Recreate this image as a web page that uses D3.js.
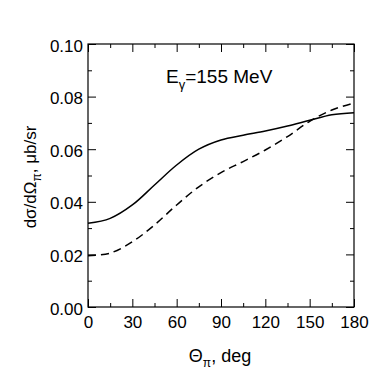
<!DOCTYPE html>
<html>
<head>
<meta charset="utf-8">
<script src="https://cdn.jsdelivr.net/npm/d3@7"></script>
<style>
body { margin: 0; background: #fff; }
text { font-family: "Liberation Sans", Arial, sans-serif; fill: #000; }
</style>
</head>
<body>
<script>
var w = 391;
var h = 381;
var margin = {top: 44, right: 37, bottom: 74, left: 88};

// angle in degrees
var angles = [0, 15, 30, 45, 60, 75, 90, 105, 120, 135, 150, 165, 180];
// solid curve
var solid = [0.0318, 0.0337, 0.0388, 0.0464, 0.0540, 0.0600, 0.0635, 0.0653, 0.0669, 0.0688, 0.0710, 0.0731, 0.0739];
// dashed curve
var dashed = [0.0195, 0.0205, 0.0248, 0.0312, 0.0388, 0.0457, 0.0511, 0.0553, 0.0597, 0.0648, 0.0706, 0.0749, 0.0775];

var xTicks = [0, 30, 60, 90, 120, 150, 180];
var xMinor = [15, 45, 75, 105, 135, 165];
var yTicks = [0, 0.02, 0.04, 0.06, 0.08, 0.10];
var yMinor = [0.01, 0.03, 0.05, 0.07, 0.09];

var pw = w - margin.left - margin.right;
var ph = h - margin.top - margin.bottom;

var svg = d3.select("body").append("svg")
  .attr("width", w)
  .attr("height", h);

var g = svg.append("g")
  .attr("transform", "translate(" + margin.left + "," + margin.top + ")");

var x = d3.scaleLinear().domain([0, 180]).range([0, pw]);
var y = d3.scaleLinear().domain([0, 0.1]).range([ph, 0]);

function styleAxis(sel) {
  sel.select(".domain").remove();
  sel.selectAll("line").attr("stroke", "#000").attr("stroke-width", 1);
}

// major ticks, inward, all four sides
g.append("g").attr("transform", "translate(0," + ph + ")")
  .call(d3.axisBottom(x).tickValues(xTicks).tickSizeInner(-8).tickPadding(9).tickFormat(d3.format("d")))
  .call(styleAxis)
  .selectAll("text").style("font-size", "17px");
g.append("g").attr("transform", "translate(0," + ph + ")")
  .call(d3.axisBottom(x).tickValues(xMinor).tickSizeInner(-4).tickFormat(""))
  .call(styleAxis);
g.append("g")
  .call(d3.axisTop(x).tickValues(xTicks).tickSizeInner(-8).tickFormat(""))
  .call(styleAxis);
g.append("g")
  .call(d3.axisTop(x).tickValues(xMinor).tickSizeInner(-4).tickFormat(""))
  .call(styleAxis);

g.append("g")
  .call(d3.axisLeft(y).tickValues(yTicks).tickSizeInner(-8).tickPadding(5).tickFormat(d3.format(".2f")))
  .call(styleAxis)
  .selectAll("text").style("font-size", "17px").attr("dy", "0.42em");
g.append("g")
  .call(d3.axisLeft(y).tickValues(yMinor).tickSizeInner(-4).tickFormat(""))
  .call(styleAxis);
g.append("g").attr("transform", "translate(" + pw + ",0)")
  .call(d3.axisRight(y).tickValues(yTicks).tickSizeInner(-8).tickFormat(""))
  .call(styleAxis);
g.append("g").attr("transform", "translate(" + pw + ",0)")
  .call(d3.axisRight(y).tickValues(yMinor).tickSizeInner(-4).tickFormat(""))
  .call(styleAxis);

g.append("rect")
  .attr("width", pw)
  .attr("height", ph)
  .attr("fill", "none")
  .attr("stroke", "#000")
  .attr("stroke-width", 1.2);

var line = d3.line()
  .x(function(d) { return x(d[0]); })
  .y(function(d) { return y(d[1]); })
  .curve(d3.curveCatmullRom.alpha(0.5));

g.append("path")
  .datum(d3.zip(angles, solid))
  .attr("d", line)
  .attr("fill", "none")
  .attr("stroke", "#000")
  .attr("stroke-width", 1.5);

g.append("path")
  .datum(d3.zip(angles, dashed))
  .attr("d", line)
  .attr("fill", "none")
  .attr("stroke", "#000")
  .attr("stroke-width", 1.5)
  .attr("stroke-dasharray", "8,5");

// energy label
var lab = svg.append("text")
  .attr("x", 166)
  .attr("y", 83)
  .style("font-size", "19px");
lab.append("tspan").text("E");
lab.append("tspan").attr("dy", 6).style("font-size", "13px").text("γ");
lab.append("tspan").attr("dy", -6).text("=155 MeV");

// x title
var xt = svg.append("text")
  .attr("x", 220)
  .attr("y", 362)
  .attr("text-anchor", "middle")
  .style("font-size", "18px");
xt.append("tspan").text("Θ");
xt.append("tspan").attr("dy", 5).style("font-size", "12px").text("π");
xt.append("tspan").attr("dy", -5).text(", deg");

// y title
var yt = svg.append("text")
  .attr("transform", "translate(36,177) rotate(-90)")
  .attr("text-anchor", "middle")
  .style("font-size", "17px");
yt.append("tspan").text("dσ/dΩ");
yt.append("tspan").attr("dy", 5).style("font-size", "12px").text("π");
yt.append("tspan").attr("dy", -5).text(", μb/sr");
</script>
</body>
</html>
